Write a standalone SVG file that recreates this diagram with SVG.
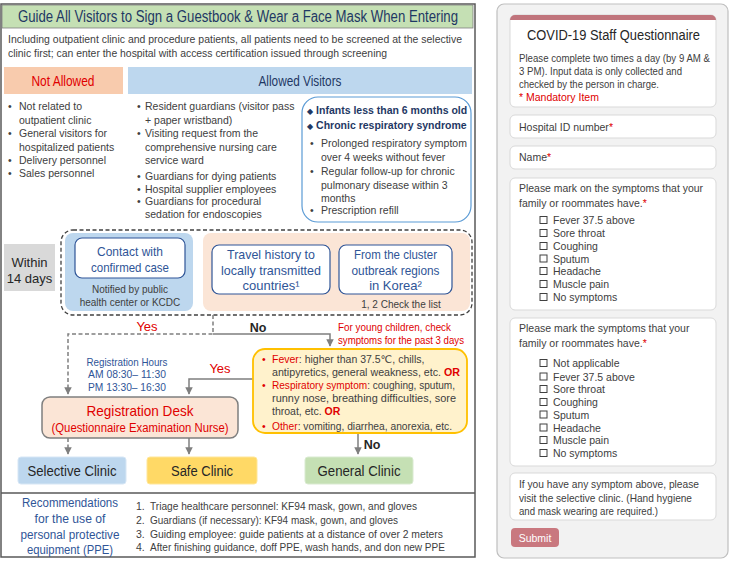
<svg xmlns="http://www.w3.org/2000/svg" width="729" height="562" viewBox="0 0 729 562">
<style>
text{font-family:"Liberation Sans","DejaVu Sans",sans-serif;}
.b{font-size:10.5px;fill:#404040;}
.bs{font-size:10px;fill:#404040;}
.q{font-size:10.5px;fill:#404040;}
.h{font-size:14px;}
.c{text-anchor:middle;}
.bold{font-weight:bold;}
.card{fill:#ffffff;stroke:#d9d9d9;stroke-width:1;}
.cb{fill:none;stroke:#404040;stroke-width:1;}
.conn{fill:none;stroke:#7f7f7f;stroke-width:1.5;}
.dash{stroke-dasharray:4 2.5;}
.red{fill:#e00000;}
.navy{fill:#1f3864;}
.blue{fill:#2f5597;}
</style>
<defs>
<marker id="ah" viewBox="0 0 10 10" refX="9" refY="5" markerWidth="5" markerHeight="5" orient="auto">
<path d="M0,0 L10,5 L0,10 z" fill="#7f7f7f"/>
</marker>
<rect id="chk" x="0" y="-7" width="7" height="7" class="cb"/>
</defs>
<rect width="729" height="562" fill="#ffffff"/>

<!-- LEFT PANEL -->
<g id="frame">
<rect x="1" y="4" width="474" height="553" fill="#ffffff" stroke="#595959" stroke-width="1.5"/>
<line x1="1" y1="493" x2="475" y2="493" stroke="#595959" stroke-width="1.5"/>
</g>

<g id="title">
<rect x="2" y="5" width="471" height="23" fill="#c5e0b4" stroke="#7f7f7f" stroke-width="0.8"/>
<text x="238" y="22" class="c navy" font-size="16" textLength="440" lengthAdjust="spacingAndGlyphs">Guide All Visitors to Sign a Guestbook &amp; Wear a Face Mask When Entering</text>
</g>

<g id="intro">
<text x="8" y="43" class="b" textLength="454" lengthAdjust="spacingAndGlyphs">Including outpatient clinic and procedure patients, all patients need to be screened at the selective</text>
<text x="8" y="56.5" class="b" textLength="379" lengthAdjust="spacingAndGlyphs">clinic first; can enter the hospital with access certification issued through screening</text>
</g>

<g id="not-allowed">
<rect x="4" y="67" width="119" height="27" fill="#f8cbad"/>
<text x="63" y="86" class="c red h" textLength="63" lengthAdjust="spacingAndGlyphs">Not Allowed</text>
<text class="b">
<tspan x="8" y="109.5">•</tspan><tspan x="19" y="109.5">Not related to</tspan>
<tspan x="19" y="123.5">outpatient  clinic</tspan>
<tspan x="8" y="136.5">•</tspan><tspan x="19" y="136.5">General visitors for</tspan>
<tspan x="19" y="150.5">hospitalized patients</tspan>
<tspan x="8" y="163.5">•</tspan><tspan x="19" y="163.5">Delivery personnel</tspan>
<tspan x="8" y="177">•</tspan><tspan x="19" y="177">Sales personnel</tspan>
</text>
</g>

<g id="allowed">
<rect x="128" y="67" width="344" height="27" fill="#bdd7ee"/>
<text x="300" y="86" class="c navy h" textLength="83" lengthAdjust="spacingAndGlyphs">Allowed Visitors</text>
<text class="b">
<tspan x="137" y="109.5">•</tspan><tspan x="145" y="109.5">Resident guardians (visitor pass</tspan>
<tspan x="145" y="123.5">+ paper wristband)</tspan>
<tspan x="137" y="136.5">•</tspan><tspan x="145" y="136.5">Visiting request from the</tspan>
<tspan x="145" y="150.5">comprehensive nursing care</tspan>
<tspan x="145" y="163.5">service ward</tspan>
<tspan x="137" y="180">•</tspan><tspan x="145" y="180">Guardians for dying patients</tspan>
<tspan x="137" y="192.5">•</tspan><tspan x="145" y="192.5">Hospital supplier employees</tspan>
<tspan x="137" y="205">•</tspan><tspan x="145" y="205">Guardians for procedural</tspan>
<tspan x="145" y="217.5">sedation for endoscopies</tspan>
</text>
</g>

<g id="exceptions">
<rect x="302" y="97" width="169" height="125" rx="16" fill="#ffffff" stroke="#5b9bd5" stroke-width="1.2"/>
<text x="307" y="114" class="navy bold" font-size="10.5"><tspan font-size="8">◆</tspan> Infants less than 6 months old</text>
<text x="307" y="129" class="navy bold" font-size="10.5"><tspan font-size="8">◆</tspan> Chronic respiratory syndrome</text>
<text class="b">
<tspan x="310" y="147">•</tspan><tspan x="321" y="147">Prolonged respiratory symptom</tspan>
<tspan x="321" y="160.5">over 4 weeks without  fever</tspan>
<tspan x="310" y="175">•</tspan><tspan x="321" y="175">Regular follow-up for chronic</tspan>
<tspan x="321" y="188.5">pulmonary disease within 3</tspan>
<tspan x="321" y="201.5">months</tspan>
<tspan x="310" y="214">•</tspan><tspan x="321" y="214">Prescription refill</tspan>
</text>
</g>

<g id="within-14-days">
<rect x="4" y="244" width="51" height="47" fill="#d9d9d9"/>
<text x="29.5" y="267" class="c" font-size="13" fill="#262626">Within</text>
<text x="29.5" y="283" class="c" font-size="13" fill="#262626">14 days</text>
</g>

<g id="criteria">
<rect x="61" y="230" width="411" height="85" rx="12" fill="none" stroke="#404040" stroke-width="1.3" stroke-dasharray="4 2.5"/>
</g>

<g id="contact">
<rect x="65" y="233" width="128" height="78" rx="8" fill="#bdd7ee"/>
<rect x="75" y="238" width="110" height="40" rx="7" fill="#ffffff" stroke="#2f5597" stroke-width="1.2"/>
<text x="130" y="256" class="c blue" font-size="13.5" textLength="66" lengthAdjust="spacingAndGlyphs">Contact with</text>
<text x="130" y="272" class="c blue" font-size="13.5" textLength="78" lengthAdjust="spacingAndGlyphs">confirmed case</text>
<text x="130" y="292.5" class="c bs">Notified by public</text>
<text x="130" y="306" class="c bs">health center or KCDC</text>
</g>

<g id="travel">
<rect x="203" y="233" width="267" height="78" rx="8" fill="#fbe5d6"/>
<rect x="212" y="245" width="118" height="49" rx="7" fill="#ffffff" stroke="#2f5597" stroke-width="1.2"/>
<text x="271" y="259" class="c blue" font-size="13" textLength="88" lengthAdjust="spacingAndGlyphs">Travel history to</text>
<text x="271" y="275" class="c blue" font-size="13" textLength="100" lengthAdjust="spacingAndGlyphs">locally transmitted</text>
<text x="271" y="290" class="c blue" font-size="13">countries¹</text>
</g>

<g id="cluster">
<rect x="339" y="245" width="113" height="49" rx="7" fill="#ffffff" stroke="#2f5597" stroke-width="1.2"/>
<text x="395.5" y="259" class="c blue" font-size="13" textLength="83" lengthAdjust="spacingAndGlyphs">From the cluster</text>
<text x="395.5" y="275" class="c blue" font-size="13" textLength="88" lengthAdjust="spacingAndGlyphs">outbreak regions</text>
<text x="395.5" y="290" class="c blue" font-size="13">in Korea²</text>
<text x="401" y="308" class="c bs">1, 2 Check the list</text>
</g>

<g id="connectors">
<path class="conn dash" d="M213,315 V334 H68 V394" marker-end="url(#ah)"/>
<path class="conn" d="M213,334 H330 V346" marker-end="url(#ah)"/>
<path class="conn" d="M253,379 H189 V394" marker-end="url(#ah)"/>
<path class="conn dash" d="M68,438 V454" marker-end="url(#ah)"/>
<path class="conn" d="M189,438 V454" marker-end="url(#ah)"/>
<path class="conn" d="M358,433 V454" marker-end="url(#ah)"/>
<text x="147" y="331" class="c red" font-size="13">Yes</text>
<text x="258" y="332" class="c bold" font-size="12.5" fill="#262626">No</text>
<text x="220" y="373" class="c red" font-size="13">Yes</text>
<text x="372" y="449" class="c bold" font-size="12.5" fill="#262626">No</text>
</g>

<g id="children-note">
<text x="338" y="331" class="red" font-size="10.5" textLength="113" lengthAdjust="spacingAndGlyphs">For  young children, check</text>
<text x="338" y="343.5" class="red" font-size="10.5" textLength="126" lengthAdjust="spacingAndGlyphs">symptoms for the past 3 days</text>
</g>

<g id="symptoms">
<rect x="253" y="349" width="214" height="84" rx="12" fill="#fff2cc" stroke="#ffc000" stroke-width="1.8"/>
<text class="b">
<tspan x="262" y="363" class="red">•</tspan><tspan x="272" y="363"><tspan class="red">Fever</tspan>: higher than  37.5℃, chills,</tspan>
</text>
<text x="272" y="376" class="b" textLength="188" lengthAdjust="spacingAndGlyphs">antipyretics, general weakness, etc. <tspan class="red bold">OR</tspan></text>
<text class="b"><tspan x="262" y="389" class="red">•</tspan></text>
<text x="272" y="389" class="b" textLength="183" lengthAdjust="spacingAndGlyphs"><tspan class="red">Respiratory symptom</tspan>: coughing, sputum,</text>
<text x="272" y="402" class="b" textLength="184" lengthAdjust="spacingAndGlyphs">runny nose, breathing difficulties, sore</text>
<text x="272" y="415" class="b">throat, etc. <tspan class="red bold">OR</tspan></text>
<text class="b"><tspan x="262" y="429.5" class="red">•</tspan></text>
<text x="272" y="429.5" class="b" textLength="180" lengthAdjust="spacingAndGlyphs"><tspan class="red">Other</tspan>: vomiting, diarrhea, anorexia, etc.</text>
</g>

<g id="registration-hours">
<text x="127" y="365.5" class="c blue" font-size="11" textLength="81" lengthAdjust="spacingAndGlyphs">Registration Hours</text>
<text x="127" y="377.5" class="c blue" font-size="11" textLength="78" lengthAdjust="spacingAndGlyphs">AM 08:30– 11:30</text>
<text x="127" y="390.5" class="c blue" font-size="11" textLength="78" lengthAdjust="spacingAndGlyphs">PM 13:30– 16:30</text>
</g>

<g id="registration-desk">
<rect x="42" y="397" width="196" height="41" rx="8" fill="#fbe5d6" stroke="#7f7f7f" stroke-width="1.5"/>
<text x="140" y="416" class="c red" font-size="15" textLength="107" lengthAdjust="spacingAndGlyphs">Registration Desk</text>
<text x="140" y="431.5" class="c red" font-size="12" textLength="177" lengthAdjust="spacingAndGlyphs">(Questionnaire Examination Nurse)</text>
</g>

<g id="selective-clinic">
<rect x="18" y="457" width="108" height="27" rx="3" fill="#bdd7ee" stroke="#d6e6f5" stroke-width="1"/>
<text x="72" y="476" class="c" font-size="14" fill="#262626" textLength="89" lengthAdjust="spacingAndGlyphs">Selective Clinic</text>
</g>
<g id="safe-clinic">
<rect x="147" y="457" width="110" height="27" rx="3" fill="#ffd966" stroke="#ffe699" stroke-width="1"/>
<text x="202" y="476" class="c" font-size="14" fill="#262626" textLength="62" lengthAdjust="spacingAndGlyphs">Safe Clinic</text>
</g>
<g id="general-clinic">
<rect x="305" y="457" width="108" height="27" rx="3" fill="#c5e0b4" stroke="#d9ead0" stroke-width="1"/>
<text x="359" y="476" class="c" font-size="14" fill="#262626" textLength="83" lengthAdjust="spacingAndGlyphs">General Clinic</text>
</g>

<g id="ppe">
<text x="70" y="507" class="c blue" font-size="12.5" textLength="96" lengthAdjust="spacingAndGlyphs">Recommendations</text>
<text x="70" y="523" class="c blue" font-size="12.5" textLength="71" lengthAdjust="spacingAndGlyphs">for the use of</text>
<text x="70" y="538.5" class="c blue" font-size="12.5" textLength="99" lengthAdjust="spacingAndGlyphs">personal protective</text>
<text x="70" y="554" class="c blue" font-size="12.5" textLength="86" lengthAdjust="spacingAndGlyphs">equipment (PPE)</text>
<text class="b">
<tspan x="136" y="510">1.</tspan><tspan x="136" y="524">2.</tspan><tspan x="136" y="537.5">3.</tspan><tspan x="136" y="551">4.</tspan>
</text>
<text x="150" y="510" class="b" textLength="267" lengthAdjust="spacingAndGlyphs">Triage healthcare personnel: KF94 mask, gown, and gloves</text>
<text x="150" y="524" class="b" textLength="248" lengthAdjust="spacingAndGlyphs">Guardians (if necessary): KF94 mask, gown, and gloves</text>
<text x="150" y="537.5" class="b" textLength="293" lengthAdjust="spacingAndGlyphs">Guiding employee: guide patients at a distance of over 2 meters</text>
<text x="150" y="551" class="b" textLength="295" lengthAdjust="spacingAndGlyphs">After finishing guidance, doff PPE, wash hands, and don new PPE</text>
</g>

<!-- RIGHT PANEL -->
<g id="questionnaire-panel">
<rect x="497" y="4" width="231" height="554" rx="7" fill="#f2f2f2" stroke="#bfbfbf" stroke-width="1.2"/>
</g>

<g id="q-header">
<rect x="510" y="15" width="206" height="92" rx="5" class="card"/>
<path d="M510,20 a5,5 0 0 1 5,-5 h196 a5,5 0 0 1 5,5 z" fill="#c0747c"/>
<text x="613.5" y="40" class="c" font-size="14" fill="#262626" textLength="173" lengthAdjust="spacingAndGlyphs">COVID-19 Staff Questionnaire</text>
<text x="519" y="62" class="q" textLength="191" lengthAdjust="spacingAndGlyphs">Please complete two times a day (by 9 AM &amp;</text>
<text x="519" y="75" class="q" textLength="163" lengthAdjust="spacingAndGlyphs">3 PM). Input data is only collected and</text>
<text x="519" y="87.5" class="q" textLength="140" lengthAdjust="spacingAndGlyphs">checked by the person in charge.</text>
<text x="519" y="100.5" class="q red">* Mandatory Item</text>
</g>

<g id="q-hospital-id">
<rect x="510" y="115" width="206" height="23" rx="5" class="card"/>
<text x="519" y="131" class="q">Hospital ID number<tspan class="red">*</tspan></text>
</g>

<g id="q-name">
<rect x="510" y="146" width="206" height="23" rx="5" class="card"/>
<text x="519" y="161" class="q">Name<tspan class="red">*</tspan></text>
</g>

<g id="q-symptoms-self">
<rect x="510" y="178" width="206" height="132" rx="5" class="card"/>
<text x="519" y="192" class="q" textLength="184" lengthAdjust="spacingAndGlyphs">Please mark on the symptoms that your</text>
<text x="519" y="207" class="q">family or roommates have.<tspan class="red">*</tspan></text>
<use href="#chk" x="540" y="223.5"/><text x="553" y="224" class="q">Fever 37.5 above</text>
<use href="#chk" x="540" y="236.5"/><text x="553" y="237" class="q">Sore throat</text>
<use href="#chk" x="540" y="249.5"/><text x="553" y="250" class="q">Coughing</text>
<use href="#chk" x="540" y="262"/><text x="553" y="262.5" class="q">Sputum</text>
<use href="#chk" x="540" y="274.5"/><text x="553" y="275" class="q">Headache</text>
<use href="#chk" x="540" y="287.5"/><text x="553" y="288" class="q">Muscle pain</text>
<use href="#chk" x="540" y="300.5"/><text x="553" y="301" class="q">No symptoms</text>
</g>

<g id="q-symptoms-family">
<rect x="510" y="318" width="206" height="148" rx="5" class="card"/>
<text x="519" y="332" class="q">Please mark the symptoms that your</text>
<text x="519" y="347" class="q">family or roommates have.<tspan class="red">*</tspan></text>
<use href="#chk" x="540" y="366.5"/><text x="553" y="367" class="q">Not applicable</text>
<use href="#chk" x="540" y="380"/><text x="553" y="380.5" class="q">Fever 37.5 above</text>
<use href="#chk" x="540" y="392.5"/><text x="553" y="393" class="q">Sore throat</text>
<use href="#chk" x="540" y="405.5"/><text x="553" y="406" class="q">Coughing</text>
<use href="#chk" x="540" y="418"/><text x="553" y="418.5" class="q">Sputum</text>
<use href="#chk" x="540" y="431"/><text x="553" y="431.5" class="q">Headache</text>
<use href="#chk" x="540" y="443.5"/><text x="553" y="444" class="q">Muscle pain</text>
<use href="#chk" x="540" y="456.5"/><text x="553" y="457" class="q">No symptoms</text>
</g>

<g id="q-notice">
<rect x="510" y="473" width="206" height="47" rx="5" class="card"/>
<text x="519" y="488" class="q" textLength="180" lengthAdjust="spacingAndGlyphs">If you have any symptom above, please</text>
<text x="519" y="501.5" class="q" textLength="173" lengthAdjust="spacingAndGlyphs">visit the selective clinic. (Hand hygiene</text>
<text x="519" y="514.5" class="q" textLength="139" lengthAdjust="spacingAndGlyphs">and mask wearing are required.)</text>
</g>

<g id="q-submit">
<rect x="511" y="528" width="48" height="19" rx="4" fill="#c9787f"/>
<text x="535" y="541.5" class="c" font-size="10.5" fill="#ffffff">Submit</text>
</g>
</svg>
